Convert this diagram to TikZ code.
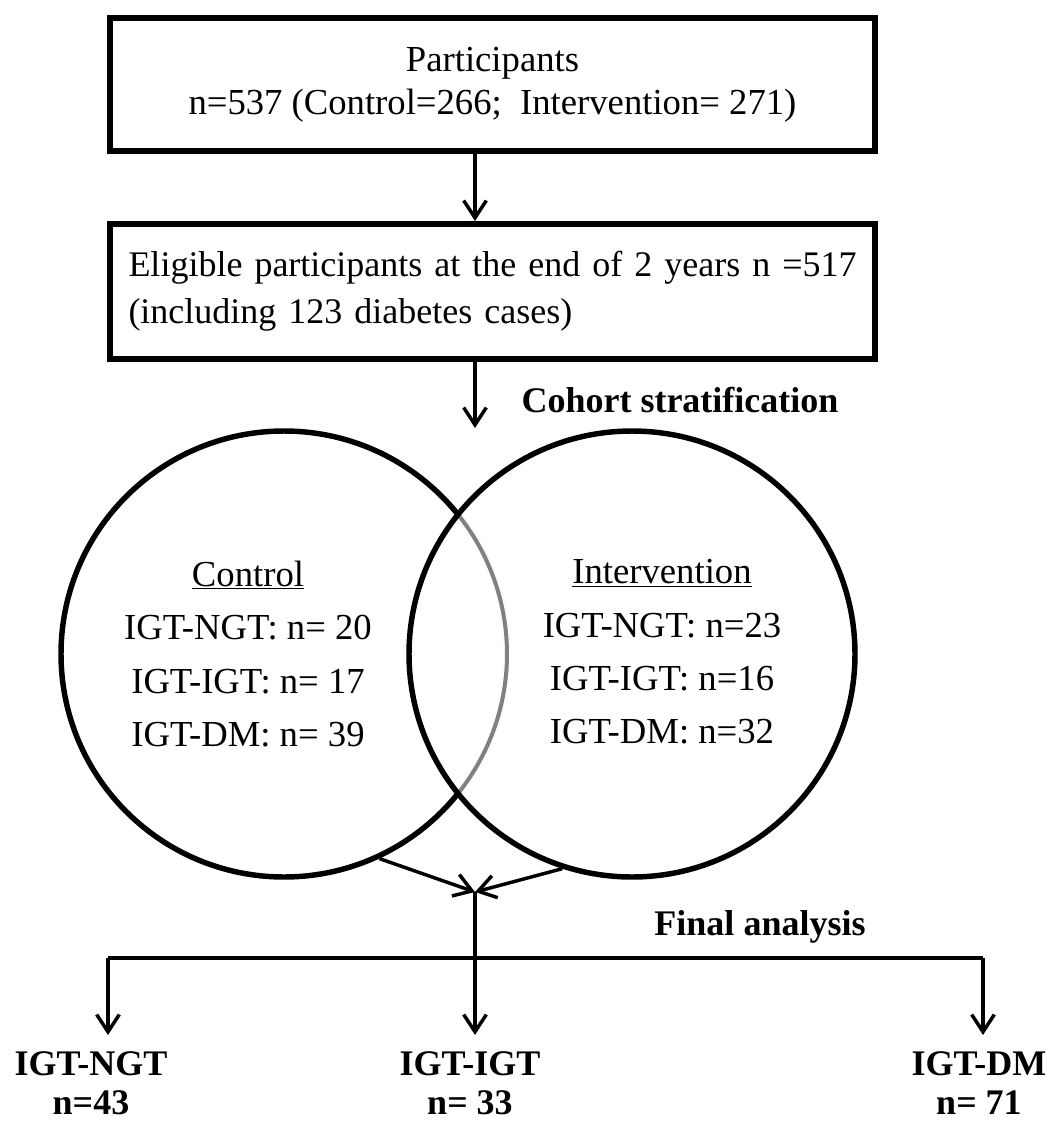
\documentclass[tikz,border=0pt]{standalone}
\usepackage{fontspec}
\setmainfont{Liberation Serif}
\usetikzlibrary{arrows.meta}

\begin{document}
\begin{tikzpicture}[x=0.75pt, y=-0.75pt,
  boxnode/.style={draw, line width=4.5pt, minimum width=573.75pt, inner sep=0pt,
    font=\fontsize{27.5pt}{32pt}\selectfont},
  conn/.style={line width=2.6pt, -{Straight Barb[length=13pt,width=17pt,line width=2.6pt]}},
  plain/.style={line width=2.6pt},
  ring/.style={draw, circle, line width=4.1pt, minimum size=334.5pt, inner sep=0pt},
  body/.style={font=\fontsize{27.5pt}{40pt}\selectfont, align=center, inner sep=0pt},
  heading/.style={font=\bfseries\fontsize{27pt}{30pt}\selectfont, inner sep=0pt},
  result/.style={font=\bfseries\fontsize{27pt}{29pt}\selectfont, align=center, inner sep=0pt}]

\useasboundingbox (0,0) rectangle (1047,1124);

% flow boxes
\node[boxnode, minimum height=99.75pt, align=center] (b1) at (492.5,84.5)
  {Participants\\n=537 (Control=266;~ Intervention= 271)};
\node[boxnode, minimum height=101.25pt, text width=552pt, inner xsep=10.8pt,
  align=left, font=\fontsize{27pt}{35pt}\selectfont] (b2) at (492.5,291.5)
  {\hspace*{3pt}Eligible participants at the end of 2 years n =517\\
   \hspace*{3pt}(including 123 diabetes cases)};

\coordinate (a2) at (475,428);
\draw[conn] (b1.south -| a2) -- (b2.north -| a2);
\draw[conn] (b2.south -| a2) -- (a2);

\node[heading] (coh) at (680,400) {Cohort stratification};

% the two overlapping groups
\node[ring] (lc) at (284,654) {};
\draw[white, line width=4.8pt] (lc.center) ++(-38.7:223) arc[start angle=-38.7, end angle=38.7, radius=223];
\draw[black!50, line width=3pt] (lc.center) ++(-38.7:223) arc[start angle=-38.7, end angle=38.7, radius=223];
\node[ring] (rc) at (632,654) {};

\node[body] (ctl) at (248,654)
  {\underline{Control}\\IGT-NGT: n= 20\\IGT-IGT: n= 17\\IGT-DM: n= 39};
\node[body] (itv) at (662,652)
  {\underline{Intervention}\\IGT-NGT: n=23\\IGT-IGT: n=16\\IGT-DM: n=32};

% merging and final split
\coordinate (m) at (475,892);
\draw[conn] (lc.-65) -- (m);
\draw[conn] (rc.-108.6) -- (m);

\node[heading] (fin) at (760,927) {Final analysis};

\coordinate (tipM) at (475,1035);
\coordinate (barL) at (108,958);
\coordinate (barR) at (983,958);
\draw[conn] (m) -- (tipM);
\draw[plain] (barL) -- (barR);
\draw[conn] (barL) -- (barL |- tipM);
\draw[conn] (barR) -- (barR |- tipM);

\node[result] (ngt) at (91,1083) {IGT-NGT\\n=43};
\node[result] (igt) at (470,1083) {IGT-IGT\\n= 33};
\node[result] (dm) at (979,1083) {IGT-DM\\n= 71};

\end{tikzpicture}
\end{document}
